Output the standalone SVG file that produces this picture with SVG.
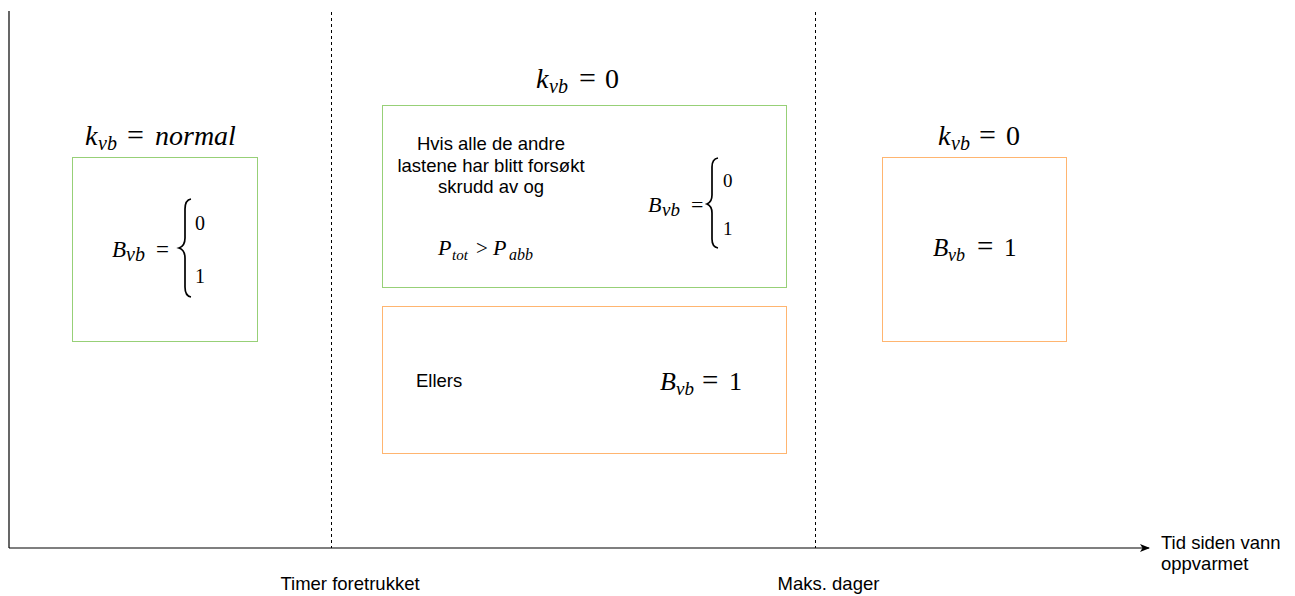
<svg xmlns="http://www.w3.org/2000/svg" width="1295" height="596" viewBox="0 0 1295 596">
<defs>
<style>
.axis{stroke:#000;stroke-width:1.2;fill:none}
.dash{stroke:#000;stroke-width:1;stroke-dasharray:3 3;fill:none}
.green{fill:#fff;stroke:#97D077;stroke-width:1}
.orange{fill:#fff;stroke:#FFB570;stroke-width:1}
.sans{font-family:"Liberation Sans",Arial,sans-serif;font-size:18.5px;fill:#000}
.math{font-family:"Liberation Serif","Times New Roman",serif;fill:#000}
.it{font-style:italic}
.brace{fill:none;stroke:#000;stroke-width:1.7}
</style>
<marker id="arr" viewBox="0 0 10 10" refX="9" refY="5" markerWidth="10" markerHeight="10" markerUnits="userSpaceOnUse" orient="auto">
<path d="M0,1 L10,5 L0,9 L2.5,5 Z" fill="#000"/>
</marker>
</defs>
<rect width="1295" height="596" fill="#fff"/>
<g id="connectors">
<line class="axis" x1="9" y1="11" x2="9" y2="548"/>
<line class="axis" x1="9" y1="548" x2="1149" y2="548" marker-end="url(#arr)"/>
<line class="dash" x1="331.5" y1="12" x2="331.5" y2="548"/>
<line class="dash" x1="815.5" y1="12" x2="815.5" y2="548"/>
</g>
<g id="node-left">
<rect class="green" x="72.5" y="157.5" width="185" height="184"/>
<g class="math">
<text class="it" x="85" y="145" font-size="28">k</text>
<text class="it" x="98" y="150" font-size="20">vb</text>
<text x="127" y="145" font-size="30">=</text>
<text class="it" x="155" y="145" font-size="28">normal</text>
<text class="it" x="112" y="257" font-size="23">B</text>
<text class="it" x="126" y="261" font-size="20">vb</text>
<text x="156" y="257" font-size="23">=</text>
<text x="195" y="230" font-size="20">0</text>
<text x="195" y="283" font-size="20">1</text>
</g>
<path class="brace" d="M191,199 Q185,200 185,209 L185,238 Q185,246 179,248 Q185,250 185,258 L185,287 Q185,296 191,297"/>
</g>
<g id="node-mid-top">
<g class="math">
<text class="it" x="536" y="88" font-size="28">k</text>
<text class="it" x="549" y="93" font-size="20">vb</text>
<text x="579" y="88" font-size="30">=</text>
<text x="605" y="88" font-size="28">0</text>
</g>
<rect class="green" x="382.5" y="105.5" width="404" height="182"/>
<text class="sans" text-anchor="middle"><tspan x="491" y="150">Hvis alle de andre</tspan><tspan x="491" y="172">lastene har blitt forsøkt</tspan><tspan x="491" y="193">skrudd av og</tspan></text>
<g class="math">
<text class="it" x="438" y="255" font-size="22">P</text>
<text class="it" x="452" y="260" font-size="15">tot</text>
<text x="476" y="255" font-size="21">&gt;</text>
<text class="it" x="493" y="255" font-size="22">P</text>
<text class="it" x="509" y="260" font-size="16">abb</text>
<text class="it" x="648" y="212" font-size="22">B</text>
<text class="it" x="662" y="216" font-size="19">vb</text>
<text x="691" y="212" font-size="22">=</text>
<text x="723" y="187" font-size="19">0</text>
<text x="723" y="235" font-size="19">1</text>
</g>
<path class="brace" d="M718,158 Q712,159 712,167 L712,195 Q712,202 707,204 Q712,206 712,213 L712,239 Q712,247 718,248"/>
</g>
<g id="node-mid-bottom">
<rect class="orange" x="382.5" y="306.5" width="404" height="147"/>
<text class="sans" x="416" y="387">Ellers</text>
<g class="math">
<text class="it" x="660" y="390" font-size="26">B</text>
<text class="it" x="676" y="395" font-size="19">vb</text>
<text x="702" y="390" font-size="29">=</text>
<text x="729" y="390" font-size="26">1</text>
</g>
</g>
<g id="node-right">
<g class="math">
<text class="it" x="938" y="145" font-size="28">k</text>
<text class="it" x="951" y="150" font-size="20">vb</text>
<text x="979" y="145" font-size="30">=</text>
<text x="1006" y="145" font-size="28">0</text>
</g>
<rect class="orange" x="882.5" y="157.5" width="184" height="184"/>
<g class="math">
<text class="it" x="933" y="256" font-size="25">B</text>
<text class="it" x="948" y="261" font-size="18">vb</text>
<text x="977" y="256" font-size="29">=</text>
<text x="1004" y="256" font-size="25">1</text>
</g>
</g>
<g id="labels">
<text class="sans" x="350" y="590" text-anchor="middle">Timer foretrukket</text>
<text class="sans" x="828.5" y="590" text-anchor="middle">Maks. dager</text>
<text class="sans"><tspan x="1161" y="549">Tid siden vann</tspan><tspan x="1161" y="570">oppvarmet</tspan></text>
</g>
</svg>
